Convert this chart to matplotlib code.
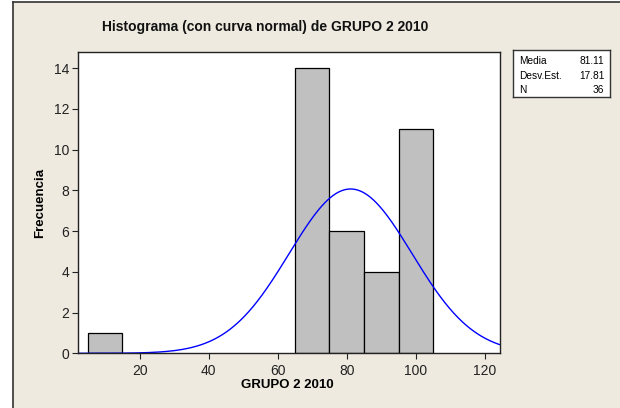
import numpy as np
import matplotlib
matplotlib.use("Agg")
import matplotlib.pyplot as plt
from matplotlib.patches import Rectangle

# frequency table for GRUPO 2 2010 (bins of width 10)
bin_centers = [10, 70, 80, 90, 100]
counts = [1, 14, 6, 4, 11]
bin_width = 10

media = 81.11
desv_est = 17.81
n_obs = 36

stat_names = ["Media", "Desv.Est.", "N"]
stat_values = ["81.11", "17.81", "36"]

x_ticks = [20, 40, 60, 80, 100, 120]
y_ticks = [0, 2, 4, 6, 8, 10, 12, 14]

plt.rcParams['font.family'] = ['Liberation Sans', 'DejaVu Sans']

fig = plt.figure(figsize=(6.2, 4.08), dpi=100)
fig.patch.set_facecolor("white")

# beige panel with dark left/top edges
bg = "#EEEAE0"
fig.patches.append(Rectangle((12 / 620, 0), 1, 406 / 408, transform=fig.transFigure,
                             facecolor=bg, edgecolor="none", zorder=-10))
fig.add_artist(plt.Line2D([12.5 / 620, 12.5 / 620], [0, 406 / 408], color="#333333", lw=1.2,
                          transform=fig.transFigure, zorder=-5))
fig.add_artist(plt.Line2D([12.5 / 620, 1], [406 / 408, 406 / 408], color="#333333", lw=1.2,
                          transform=fig.transFigure, zorder=-5))

ax = fig.add_axes([77.5 / 620, (408 - 353.3) / 408, (500 - 77.5) / 620, (353.3 - 51.7) / 408])
ax.set_facecolor("white")

ax.bar(bin_centers, counts, width=bin_width, color="#C0C0C0", edgecolor="black", linewidth=0.9)

# fitted normal curve scaled to counts
xs = np.linspace(0, 130, 500)
pdf = np.exp(-0.5 * ((xs - media) / desv_est) ** 2) / (desv_est * np.sqrt(2 * np.pi))
ax.plot(xs, pdf * n_obs * bin_width, color="#0000FF", lw=1)

ax.set_xlim(2.0, 124.4)
ax.set_ylim(0, 14.8)
ax.set_xticks(x_ticks)
ax.set_yticks(y_ticks)
ax.tick_params(direction="out", length=4, width=0.8, labelsize=10, colors="#222222",
               top=False, right=False)
ax.tick_params(axis="y", pad=2)
for s in ax.spines.values():
    s.set_color("#222222")
    s.set_linewidth(1)

ax.set_xlabel("GRUPO 2 2010", fontsize=9.5, fontweight="bold")
ax.set_ylabel("Frecuencia", fontsize=9.5, fontweight="bold")
ax.xaxis.set_label_coords((287 - 77.5) / 422.5, -0.085)
ax.yaxis.set_label_coords((46 - 77.5) / 422.5, 0.5)

fig.text(265 / 620, 1 - 27 / 408, "Histograma (con curva normal) de GRUPO 2 2010",
         ha="center", va="center", fontsize=10, fontweight="bold", color="#111111")

# summary statistics box
box = fig.add_axes([513 / 620, 1 - 97 / 408, (610 - 513) / 620, (97 - 50) / 408])
box.set_facecolor("white")
box.set_xticks([])
box.set_yticks([])
for s in box.spines.values():
    s.set_color("#333333")
    s.set_linewidth(1)
for name, val, y in zip(stat_names, stat_values, [0.76, 0.45, 0.14]):
    box.text(0.06, y, name, fontsize=7.3, va="center", ha="left", transform=box.transAxes)
    box.text(0.94, y, val, fontsize=7.3, va="center", ha="right", transform=box.transAxes)

fig.savefig("out.png", dpi=100, facecolor=fig.get_facecolor())
